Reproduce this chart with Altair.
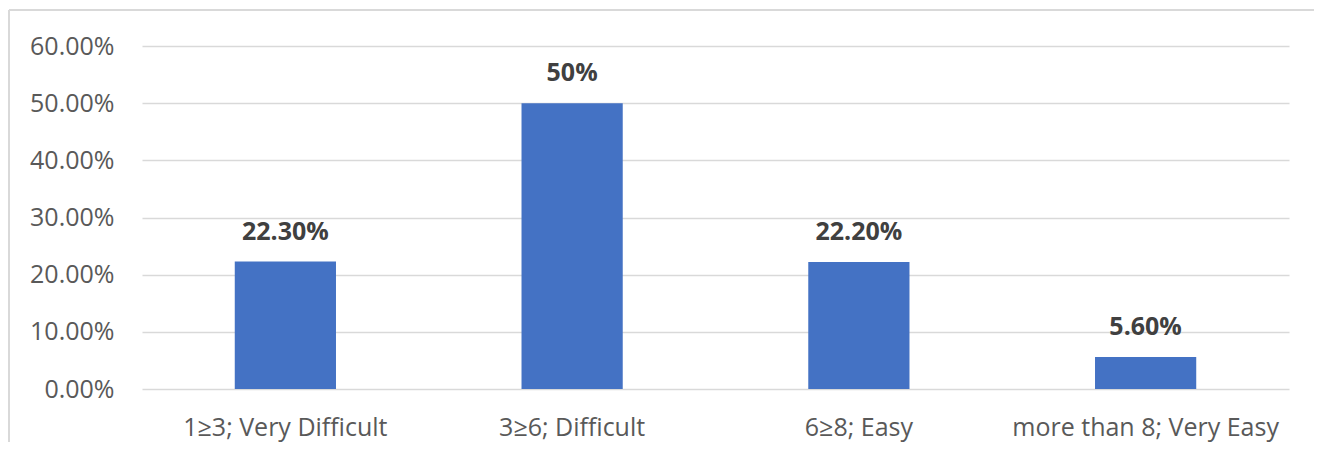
import altair as alt
import pandas as pd

categories = ["1≥3; Very Difficult", "3≥6; Difficult", "6≥8; Easy", "more than 8; Very Easy"]
values = [0.223, 0.50, 0.222, 0.056]
labels = ["22.30%", "50%", "22.20%", "5.60%"]

df = pd.DataFrame({"cat": categories, "val": values, "lab": labels})

W, H = 1147, 343
FONT = "Open Sans"

x = alt.X("cat:N", sort=categories, title=None,
          scale=alt.Scale(paddingInner=0.647, paddingOuter=0.3235),
          axis=alt.Axis(labelAngle=0, labelFont=FONT, labelFontSize=25, labelColor="#595959",
                        labelPadding=26, labelLimit=0, ticks=False, domain=False))
y = alt.Y("val:Q", title=None,
          scale=alt.Scale(domain=[0, 0.6]),
          axis=alt.Axis(values=[0, 0.1, 0.2, 0.3, 0.4, 0.5, 0.6], format=".2%",
                        labelFont=FONT, labelFontSize=25, labelColor="#595959",
                        labelPadding=28, ticks=False, domain=False,
                        gridColor="#d9d9d9", gridWidth=1.5))

bars = alt.Chart(df).mark_bar(color="#4472C4").encode(x=x, y=y)
text = alt.Chart(df).mark_text(font=FONT, fontSize=25, fontWeight="bold", color="#404040",
                               baseline="alphabetic", dy=-22).encode(x=x, y=y, text="lab:N")

border_top = alt.Chart(df).mark_rule(color="#d9d9d9", strokeWidth=2).encode(
    x=alt.value(-133), x2=alt.value(W + 40), y=alt.value(-36))
border_left = alt.Chart(df).mark_rule(color="#d9d9d9", strokeWidth=2).encode(
    x=alt.value(-133), y=alt.value(-36), y2=alt.value(H + 80))

chart = alt.layer(border_top, border_left, bars, text).properties(
    width=W, height=H,
    autosize=alt.AutoSizeParams(type="none"),
    padding={"left": 134, "top": 38, "right": 25, "bottom": 53},
).configure_view(stroke=None)

chart.save("out.html", embed_options={"renderer": "svg", "actions": False})
